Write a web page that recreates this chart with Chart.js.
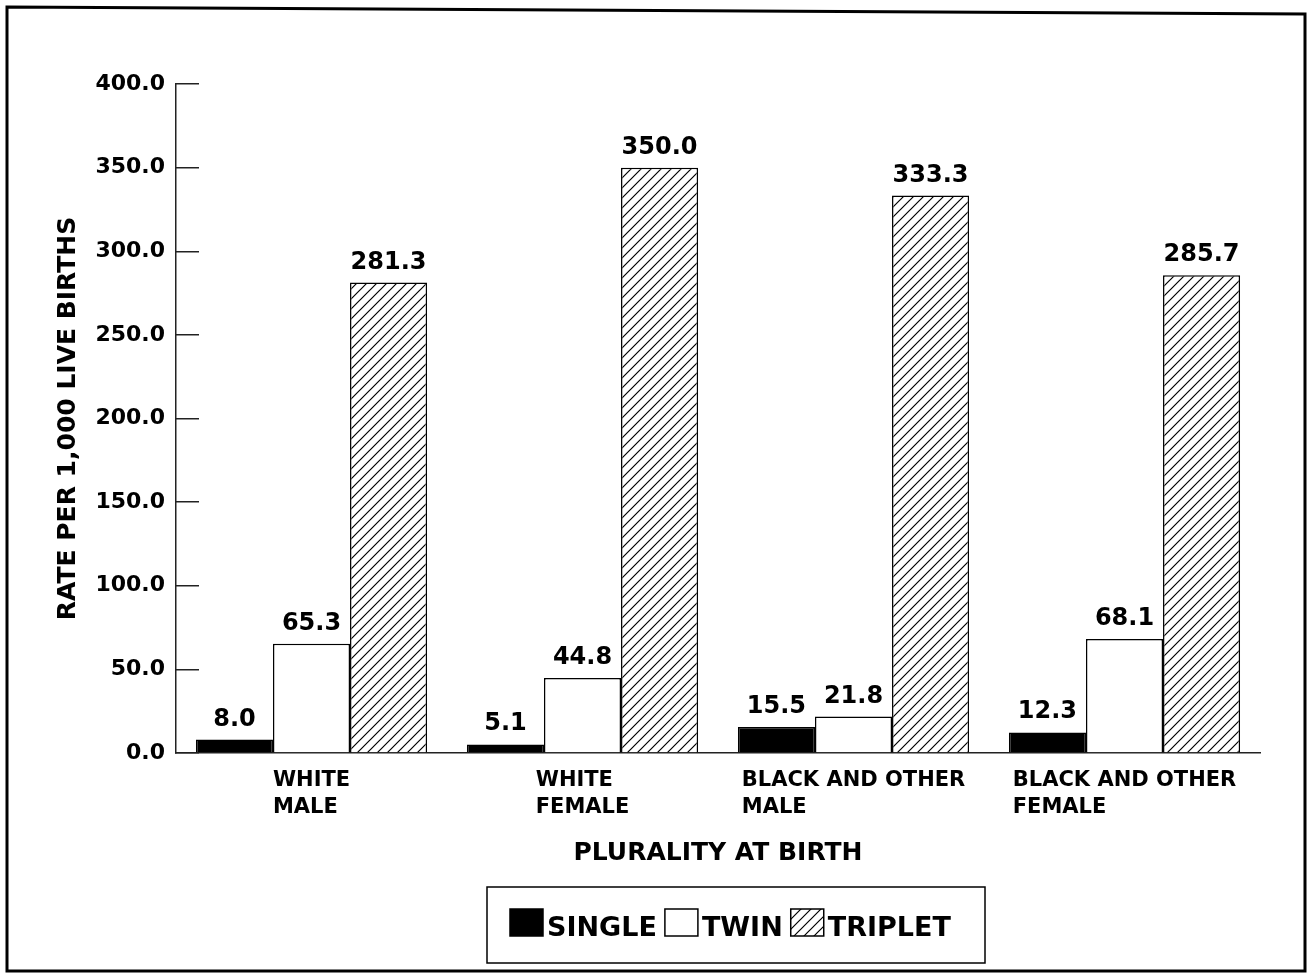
<!DOCTYPE html>
<html>
<head>
<meta charset="utf-8">
<script src="https://cdn.jsdelivr.net/npm/chart.js@4/dist/chart.umd.min.js"></script>
<style>
  html, body { margin: 0; padding: 0; background: #ffffff; }
  canvas { display: block; }
</style>
</head>
<body>
<canvas id="c" width="1311" height="974"></canvas>
<script>
// ---- data ----
const categories = [["WHITE", "MALE"], ["WHITE", "FEMALE"], ["BLACK AND OTHER", "MALE"], ["BLACK AND OTHER", "FEMALE"]];
const seriesLabels = ["SINGLE", "TWIN", "TRIPLET"];
const singleRates = [8.0, 5.1, 15.5, 12.3];
const twinRates = [65.3, 44.8, 21.8, 68.1];
const tripletRates = [281.3, 350.0, 333.3, 285.7];
const yMin = 0, yMax = 400, yStep = 50;
const yTitle = "RATE PER 1,000 LIVE BIRTHS";
const xTitle = "PLURALITY AT BIRTH";

const FONT = "'DejaVu Sans', 'Liberation Sans', Arial, sans-serif";

// hatch pattern for triplet bars
function makeHatch() {
  const s = 10;
  const pc = document.createElement('canvas');
  pc.width = s; pc.height = s;
  const p = pc.getContext('2d');
  p.fillStyle = '#ffffff';
  p.fillRect(0, 0, s, s);
  p.strokeStyle = '#000000';
  p.lineWidth = 1.2;
  p.beginPath();
  p.moveTo(0, s); p.lineTo(s, 0);
  p.moveTo(-2, 2); p.lineTo(2, -2);
  p.moveTo(s - 2, s + 2); p.lineTo(s + 2, s - 2);
  p.stroke();
  return document.getElementById('c').getContext('2d').createPattern(pc, 'repeat');
}
const hatch = makeHatch();

// ---- plugins ----
const framePlugin = {
  id: 'frame',
  afterDraw(chart) {
    const ctx = chart.ctx;
    ctx.save();
    ctx.strokeStyle = '#000';
    ctx.lineWidth = 3;
    ctx.beginPath();
    ctx.moveTo(7, 7);
    ctx.lineTo(1305, 14);
    ctx.lineTo(1305, 971);
    ctx.lineTo(7, 971);
    ctx.closePath();
    ctx.stroke();
    ctx.restore();
  }
};

const valueLabels = {
  id: 'valueLabels',
  afterDatasetsDraw(chart) {
    const ctx = chart.ctx;
    ctx.save();
    ctx.font = "bold 24px " + FONT;
    ctx.fillStyle = '#000';
    ctx.textAlign = 'center';
    ctx.textBaseline = 'alphabetic';
    chart.data.datasets.forEach((ds, di) => {
      const meta = chart.getDatasetMeta(di);
      meta.data.forEach((bar, i) => {
        ctx.fillText(Number(ds.data[i]).toFixed(1), bar.x, bar.y - 14);
      });
    });
    ctx.restore();
  }
};

const xLabels = {
  id: 'xLabels',
  afterDraw(chart) {
    const sc = chart.scales.x;
    const ctx = chart.ctx;
    ctx.save();
    ctx.font = "bold 21px " + FONT;
    ctx.fillStyle = '#000';
    ctx.textAlign = 'left';
    ctx.textBaseline = 'alphabetic';
    chart.data.labels.forEach((lines, i) => {
      const cx = sc.getPixelForTick(i);
      let w = 0;
      lines.forEach(l => { w = Math.max(w, ctx.measureText(l).width); });
      const x0 = cx - w / 2;
      lines.forEach((l, k) => {
        ctx.fillText(l, x0, sc.top + 33 + k * 27);
      });
    });
    ctx.restore();
  }
};

const boxedLegend = {
  id: 'boxedLegend',
  afterDraw(chart) {
    const ctx = chart.ctx;
    const box = { left: 487, top: 887, right: 985, bottom: 963 };
    ctx.save();
    ctx.strokeStyle = '#000';
    ctx.lineWidth = 1.5;
    ctx.strokeRect(box.left, box.top, box.right - box.left, box.bottom - box.top);
    ctx.font = "bold 27px " + FONT;
    ctx.textBaseline = 'alphabetic';
    ctx.textAlign = 'left';
    const sw = 33, sh = 27, gapT = 4, gapI = 8;
    let x = 510;
    const yTop = 909;
    chart.data.datasets.forEach((ds) => {
      ctx.fillStyle = ds.backgroundColor;
      ctx.fillRect(x, yTop, sw, sh);
      ctx.lineWidth = 1.5;
      ctx.strokeStyle = '#000';
      ctx.strokeRect(x, yTop, sw, sh);
      x += sw + gapT;
      ctx.fillStyle = '#000';
      ctx.fillText(ds.label, x, yTop + sh);
      x += ctx.measureText(ds.label).width + gapI;
    });
    ctx.restore();
  }
};

// ---- chart ----
new Chart(document.getElementById('c'), {
  type: 'bar',
  data: {
    labels: categories,
    datasets: [
      { label: seriesLabels[0], data: singleRates, backgroundColor: '#000000', borderColor: '#000000', borderWidth: 1.5 },
      { label: seriesLabels[1], data: twinRates, backgroundColor: '#ffffff', borderColor: '#000000', borderWidth: 1.5 },
      { label: seriesLabels[2], data: tripletRates, backgroundColor: hatch, borderColor: '#000000', borderWidth: 1.5 }
    ]
  },
  options: {
    responsive: false,
    animation: false,
    devicePixelRatio: 1,
    layout: { padding: { left: 0, top: 84, right: 51, bottom: 0 } },
    datasets: { bar: { categoryPercentage: 0.853, barPercentage: 1.0 } },
    plugins: {
      legend: { display: false },
      tooltip: { enabled: false }
    },
    scales: {
      x: {
        grid: { display: false },
        border: { display: true, color: '#222', width: 1.5 },
        ticks: { display: false },
        title: {
          display: true, text: xTitle, color: '#000',
          font: { family: FONT, size: 25, weight: 'bold' },
          padding: { top: 0, bottom: 106 }
        },
        afterFit(s) { s.height = 221; }
      },
      y: {
        min: yMin, max: yMax,
        grid: { drawOnChartArea: false, drawTicks: true, tickLength: -23, color: '#222', lineWidth: 1.5 },
        border: { display: true, color: '#222', width: 1.5 },
        ticks: {
          stepSize: yStep, color: '#000', padding: 34,
          font: { family: FONT, size: 22, weight: 'bold' },
          callback: v => Number(v).toFixed(1)
        },
        title: {
          display: true, text: yTitle, color: '#000',
          font: { family: FONT, size: 25, weight: 'bold' },
          padding: { top: 53, bottom: 0 }
        },
        afterFit(s) { s.width = 176; }
      }
    }
  },
  plugins: [framePlugin, valueLabels, xLabels, boxedLegend]
});
</script>
</body>
</html>
